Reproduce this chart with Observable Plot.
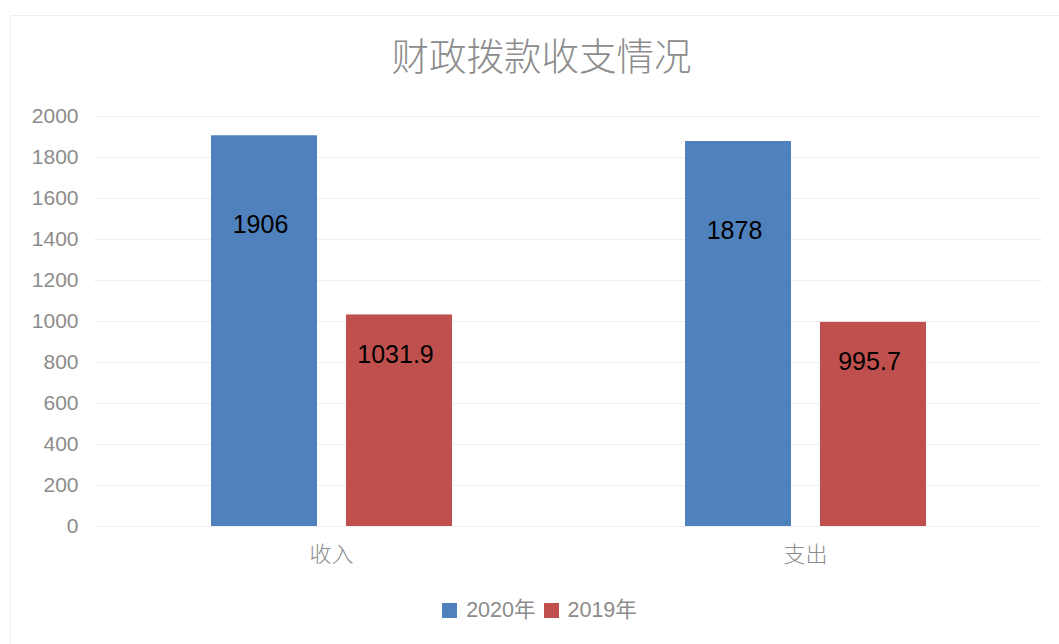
<!DOCTYPE html>
<html>
<head>
<meta charset="utf-8">
<script src="https://cdn.jsdelivr.net/npm/d3@7"></script>
<script src="https://cdn.jsdelivr.net/npm/@observablehq/plot@0.6"></script>
<style>
  html, body { margin: 0; padding: 0; background: #fff; }
  #wrap { position: relative; width: 1059px; height: 644px; overflow: hidden; font-family: "Liberation Sans", "Noto Sans CJK SC", sans-serif; }
  #frame { position: absolute; left: 10px; top: 15px; width: 1060px; height: 640px; border: 1px solid #eeeeee; box-sizing: border-box; }
  #title { position: absolute; left: 12px; width: 1059px; top: 27px; text-align: center; font-family: "Noto Sans CJK SC", sans-serif; font-weight: 300; font-size: 37.5px; color: #8c8c8c; line-height: 54px; }
  #chart { position: absolute; left: 0; top: 90px; }
  #legend { position: absolute; left: 10px; width: 1059px; top: 596px; text-align: center; font-size: 21.5px; color: #8c8c8c; line-height: 28px; }
  #legend span.item { display: inline-flex; align-items: center; margin: 0 4px; }
  #legend span.sw { display: inline-block; width: 15px; height: 15px; margin-right: 9px; }
</style>
</head>
<body>
<div id="wrap">
  <div id="frame"></div>
  <div id="title"></div>
  <div id="chart"></div>
  <div id="legend"></div>
</div>
<script>
const title = "财政拨款收支情况";
const categories = ["收入", "支出"];
const seriesNames = ["2020年", "2019年"];
const values2020 = [1906, 1878];
const values2019 = [1031.9, 995.7];
const colors = ["#4F81BD", "#C0504D"];
const yTicks = [0, 200, 400, 600, 800, 1000, 1200, 1400, 1600, 1800, 2000];

const data = [];
categories.forEach((c, i) => {
  data.push({category: c, series: seriesNames[0], value: values2020[i]});
  data.push({category: c, series: seriesNames[1], value: values2019[i]});
});

document.getElementById("title").textContent = title;

const fontFam = "'Liberation Sans', 'Noto Sans CJK SC', sans-serif";

const plot = Plot.plot({
  width: 1059,
  height: 490,
  marginLeft: 94,
  marginRight: 17,
  marginTop: 26,
  marginBottom: 54,
  style: {fontFamily: fontFam, background: "transparent"},
  fx: {domain: categories, padding: 0, label: null},
  x: {domain: seriesNames, paddingInner: 0.215, paddingOuter: 0.863, axis: null},
  y: {domain: [0, 2000], label: null},
  color: {domain: seriesNames, range: colors},
  marks: [
    Plot.gridY(yTicks, {stroke: "#efefef", strokeOpacity: 1, facetAnchor: null}),
    Plot.axisY({ticks: yTicks, tickFormat: d => String(d), tickSize: 0, tickPadding: 16, fontSize: 21, color: "#8c8c8c", label: null, anchor: "left"}),
    Plot.axisFx({anchor: "bottom", tickSize: 0, tickPadding: 20, fontSize: 22, fill: "#8c8c8c", label: null, fontFamily: "'Noto Sans CJK SC', sans-serif", fontWeight: 300}),
    Plot.barY(data, {fx: "category", x: "series", y: "value", fill: "series"}),
    Plot.text(data.filter(d => d.series === seriesNames[0]), {fx: "category", x: "series", y: "value", text: d => String(d.value), dy: 89, dx: -4, fontSize: 25, fill: "#000"}),
    Plot.text(data.filter(d => d.series === seriesNames[1]), {fx: "category", x: "series", y: "value", text: d => String(d.value), dy: 40, dx: -4, fontSize: 25, fill: "#000"})
  ]
});
document.getElementById("chart").appendChild(plot);

const legend = document.getElementById("legend");
seriesNames.forEach((s, i) => {
  const item = document.createElement("span");
  item.className = "item";
  const sw = document.createElement("span");
  sw.className = "sw";
  sw.style.background = colors[i];
  item.appendChild(sw);
  item.appendChild(document.createTextNode(s));
  legend.appendChild(item);
});
</script>
</body>
</html>
